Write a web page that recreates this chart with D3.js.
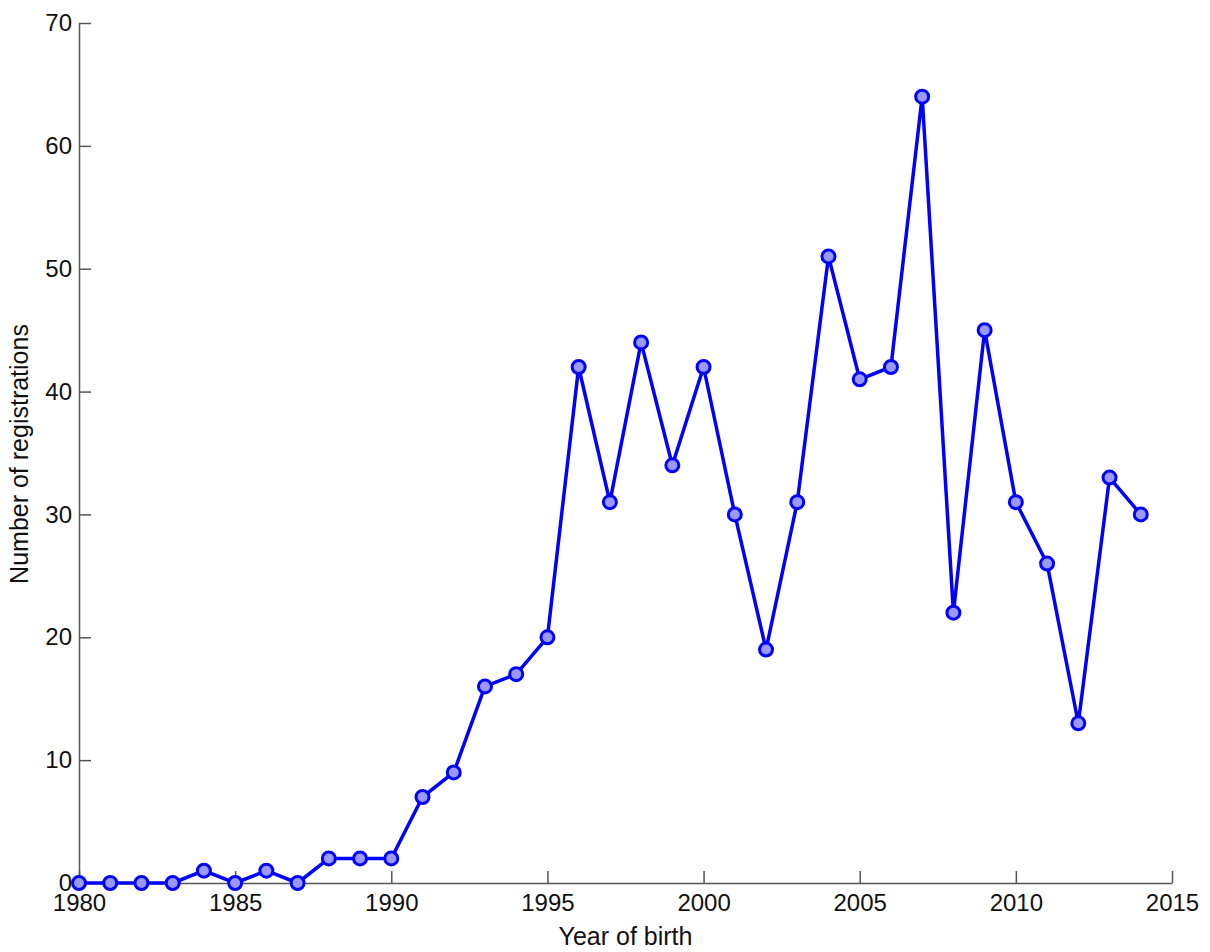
<!DOCTYPE html>
<html>
<head>
<meta charset="utf-8">
<script src="https://cdn.jsdelivr.net/npm/d3@7"></script>
<style>
  body { margin: 0; background: #fff; }
  text { font-family: "Liberation Sans", Arial, sans-serif; fill: #111; }
</style>
</head>
<body>
<div id="chart"></div>
<script>
const years = [1980, 1981, 1982, 1983, 1984, 1985, 1986, 1987, 1988, 1989,
  1990, 1991, 1992, 1993, 1994, 1995, 1996, 1997, 1998, 1999,
  2000, 2001, 2002, 2003, 2004, 2005, 2006, 2007, 2008, 2009,
  2010, 2011, 2012, 2013, 2014];
const registrations = [0, 0, 0, 0, 1, 0, 1, 0, 2, 2,
  2, 7, 9, 16, 17, 20, 42, 31, 44, 34,
  42, 30, 19, 31, 51, 41, 42, 64, 22, 45,
  31, 26, 13, 33, 30];
const xTicks = [1980, 1985, 1990, 1995, 2000, 2005, 2010, 2015];
const yTicks = [0, 10, 20, 30, 40, 50, 60, 70];

const svg = d3.select("#chart").append("svg");
var margin = { top: 23, right: 38, bottom: 69, left: 79 },
  width = 1210 - margin.left - margin.right,
  height = 952 - margin.top - margin.bottom;
svg.attr("width", 1210).attr("height", 952);
const g = svg.append("g").attr("transform", `translate(${margin.left},${margin.top})`);

var x = d3.scaleLinear().domain([1980, 2015]).range([0, width]);
var y = d3.scaleLinear().domain([0, 70]).range([height, 0]);

// ticks point inward, like the original
const xa = g.append("g")
  .attr("transform", `translate(0,${height})`)
  .call(d3.axisBottom(x).tickValues(xTicks).tickFormat(d3.format("d")).tickSizeInner(-12).tickSizeOuter(0).tickPadding(11));
const ya = g.append("g")
  .call(d3.axisLeft(y).tickValues(yTicks).tickSizeInner(-12).tickSizeOuter(0).tickPadding(7));

[xa, ya].forEach((a) => {
  a.select(".domain").attr("stroke", "#555").attr("stroke-width", 1.5);
  a.selectAll(".tick line").attr("stroke", "#555").attr("stroke-width", 1.5);
  a.selectAll(".tick text").attr("font-size", 24).attr("fill", "#111")
    .style("font-family", '"Liberation Sans", Arial, sans-serif');
});

const pts = years.map((yr, i) => ({ yr: yr, v: registrations[i] }));

g.append("path")
  .datum(pts)
  .attr("fill", "none")
  .attr("stroke", "#0000ff")
  .attr("stroke-width", 3.5)
  .attr("stroke-linejoin", "round")
  .attr("d", d3.line().x((d) => x(d.yr)).y((d) => y(d.v)));

g.selectAll(".pt")
  .data(pts)
  .enter()
  .append("circle")
  .attr("class", "pt")
  .attr("cx", (d) => x(d.yr))
  .attr("cy", (d) => y(d.v))
  .attr("r", 6.5)
  .attr("fill", "#9999ff")
  .attr("stroke", "#0000ff")
  .attr("stroke-width", 3);

g.append("text")
  .text("Year of birth")
  .attr("x", width / 2)
  .attr("y", height + 62)
  .attr("text-anchor", "middle")
  .attr("font-size", 25);

g.append("text")
  .text("Number of registrations")
  .attr("transform", `translate(${-51},${height / 2 + 1}) rotate(-90)`)
  .attr("text-anchor", "middle")
  .attr("font-size", 25);
</script>
</body>
</html>
